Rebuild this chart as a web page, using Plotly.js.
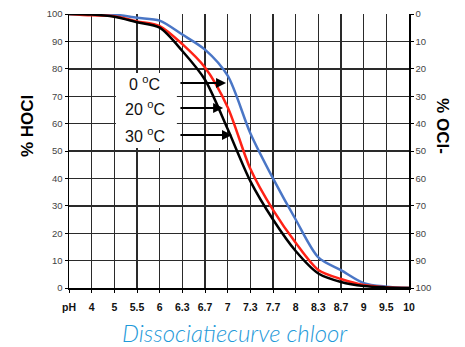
<!DOCTYPE html>
<html>
<head>
<meta charset="utf-8">
<script src="https://cdn.plot.ly/plotly-3.0.1.min.js"></script>
<style>html,body{margin:0;padding:0;background:#fff;}#chart{width:465px;height:347px;}</style>
</head>
<body>
<div id="chart"></div>
<script>
// Categories along the x axis (first tick is the "pH" label)
const phLabels = ['pH','4','5','5.5','6','6.3','6.7','7','7.3','7.7','8','8.3','8.7','9','9.5','10'];
// % HOCl per temperature
const hocl0C  = [100, 99.9, 99.8, 98.6, 97.6, 92.5, 87, 77.5, 56.5, 40, 25, 11.2, 6.5, 1.8, 0.5, 0];
const hocl20C = [100, 99.5, 99.2, 97.3, 95.6, 89, 80.5, 66, 43.5, 28.5, 16.5, 6.6, 3.3, 1.1, 0.3, 0];
const hocl30C = [100, 99.8, 99.0, 97, 95, 86.5, 76, 58, 39, 25, 13.5, 5.3, 2.2, 0.7, 0.2, 0];
const tempLabels = ['0 <sup>o</sup>C', '20 <sup>o</sup>C', '30 <sup>o</sup>C'];
const yTicks = [0,10,20,30,40,50,60,70,80,90,100];

const lineStyle = (c) => ({color: c, width: 2.5, shape: 'spline', smoothing: 0.8});
const traces = [
  {x: phLabels, y: hocl0C, mode: 'lines', line: lineStyle('#4a76c6'), name: '0', hoverinfo: 'skip'},
  {x: phLabels, y: hocl20C, mode: 'lines', line: lineStyle('#ff2216'), name: '20', hoverinfo: 'skip'},
  {x: phLabels, y: hocl30C, mode: 'lines', line: lineStyle('#000000'), name: '30', hoverinfo: 'skip'},
  // % OCl- (complement) on the right axis, invisible: only anchors the right axis
  {x: phLabels, y: hocl0C.map(v => 100 - v), yaxis: 'y2', mode: 'lines', line: {width: 0}, opacity: 0, hoverinfo: 'skip'}
];

const tickFont = {family: 'Arial, "Liberation Sans", sans-serif', size: 9.5, color: '#444'};
const gridC = '#2a2a2a';

// label positions (category index / value)
const labelX = 3.35, tailX = 4.85;
const headX = [6.93, 6.8, 7.19];
const rowY = [74.8, 65.7, 55.8];

const annotations = [];
tempLabels.forEach((t, i) => {
  annotations.push({x: labelX, y: rowY[i], xref: 'x', yref: 'y', text: t, showarrow: false,
    font: {family: 'Arial, "Liberation Sans", sans-serif', size: 16, color: '#111'}});
  annotations.push({x: headX[i], y: rowY[i], xref: 'x', yref: 'y', ax: tailX, ay: rowY[i],
    axref: 'x', ayref: 'y', text: '', showarrow: true, arrowhead: 2, arrowsize: 1, arrowwidth: 2, arrowcolor: '#000'});
});
annotations.push({xref: 'paper', yref: 'paper', x: -0.1235, y: 0.591, xanchor: 'center', yanchor: 'middle',
  text: '% HOCl', textangle: -90, showarrow: false,
  font: {family: 'Arial, "Liberation Sans", sans-serif', size: 17, color: '#000', weight: 'bold'}});
annotations.push({xref: 'paper', yref: 'paper', x: (443-69)/340, y: 0.591, xanchor: 'center', yanchor: 'middle',
  text: '% OCl-', textangle: 90, showarrow: false,
  font: {family: 'Arial, "Liberation Sans", sans-serif', size: 17, color: '#000', weight: 'bold'}});
annotations.push({xref: 'paper', yref: 'paper', x: (235-69)/340, y: (288-332)/274, xanchor: 'center', yanchor: 'middle',
  text: 'Dissociatiecurve chloor', showarrow: false,
  font: {family: 'Lato, "Open Sans", sans-serif', size: 24, color: '#1f9ad9', style: 'italic', weight: 300}});

const layout = {
  width: 465, height: 347,
  margin: {l: 69, r: 56, t: 14, b: 59},
  paper_bgcolor: '#fff', plot_bgcolor: '#fff',
  showlegend: false,
  xaxis: {type: 'category', range: [0, 15], showgrid: true, gridcolor: gridC, gridwidth: 1.4,
    showline: true, linecolor: '#000', linewidth: 1.5, mirror: false,
    ticks: 'outside', ticklen: 3, tickcolor: '#000', ticklabelstandoff: 6,
    tickfont: {family: 'Arial, "Liberation Sans", sans-serif', size: 10.5, color: '#111', weight: 'bold'},
    zeroline: false, fixedrange: true},
  yaxis: {range: [0, 100], tickvals: yTicks, showgrid: true, gridcolor: gridC, gridwidth: 1.4,
    showline: true, linecolor: '#000', linewidth: 1.5, ticks: 'outside', ticklen: 3, tickcolor: '#000',
    tickfont: tickFont, zeroline: false, fixedrange: true},
  yaxis2: {overlaying: 'y', side: 'right', range: [100, 0], tickvals: yTicks, showgrid: false,
    showline: true, linecolor: '#000', linewidth: 1.5, ticks: 'outside', ticklen: 3, tickcolor: '#000',
    tickfont: tickFont, zeroline: false, fixedrange: true},
  shapes: [{type: 'rect', xref: 'x', yref: 'y', x0: 2.07, x1: 4.76, y0: 51.1, y1: 78.5,
    fillcolor: '#fff', line: {width: 0}, layer: 'between'}],
  annotations: annotations
};

Plotly.newPlot('chart', traces, layout, {staticPlot: true, displayModeBar: false});
</script>
</body>
</html>
